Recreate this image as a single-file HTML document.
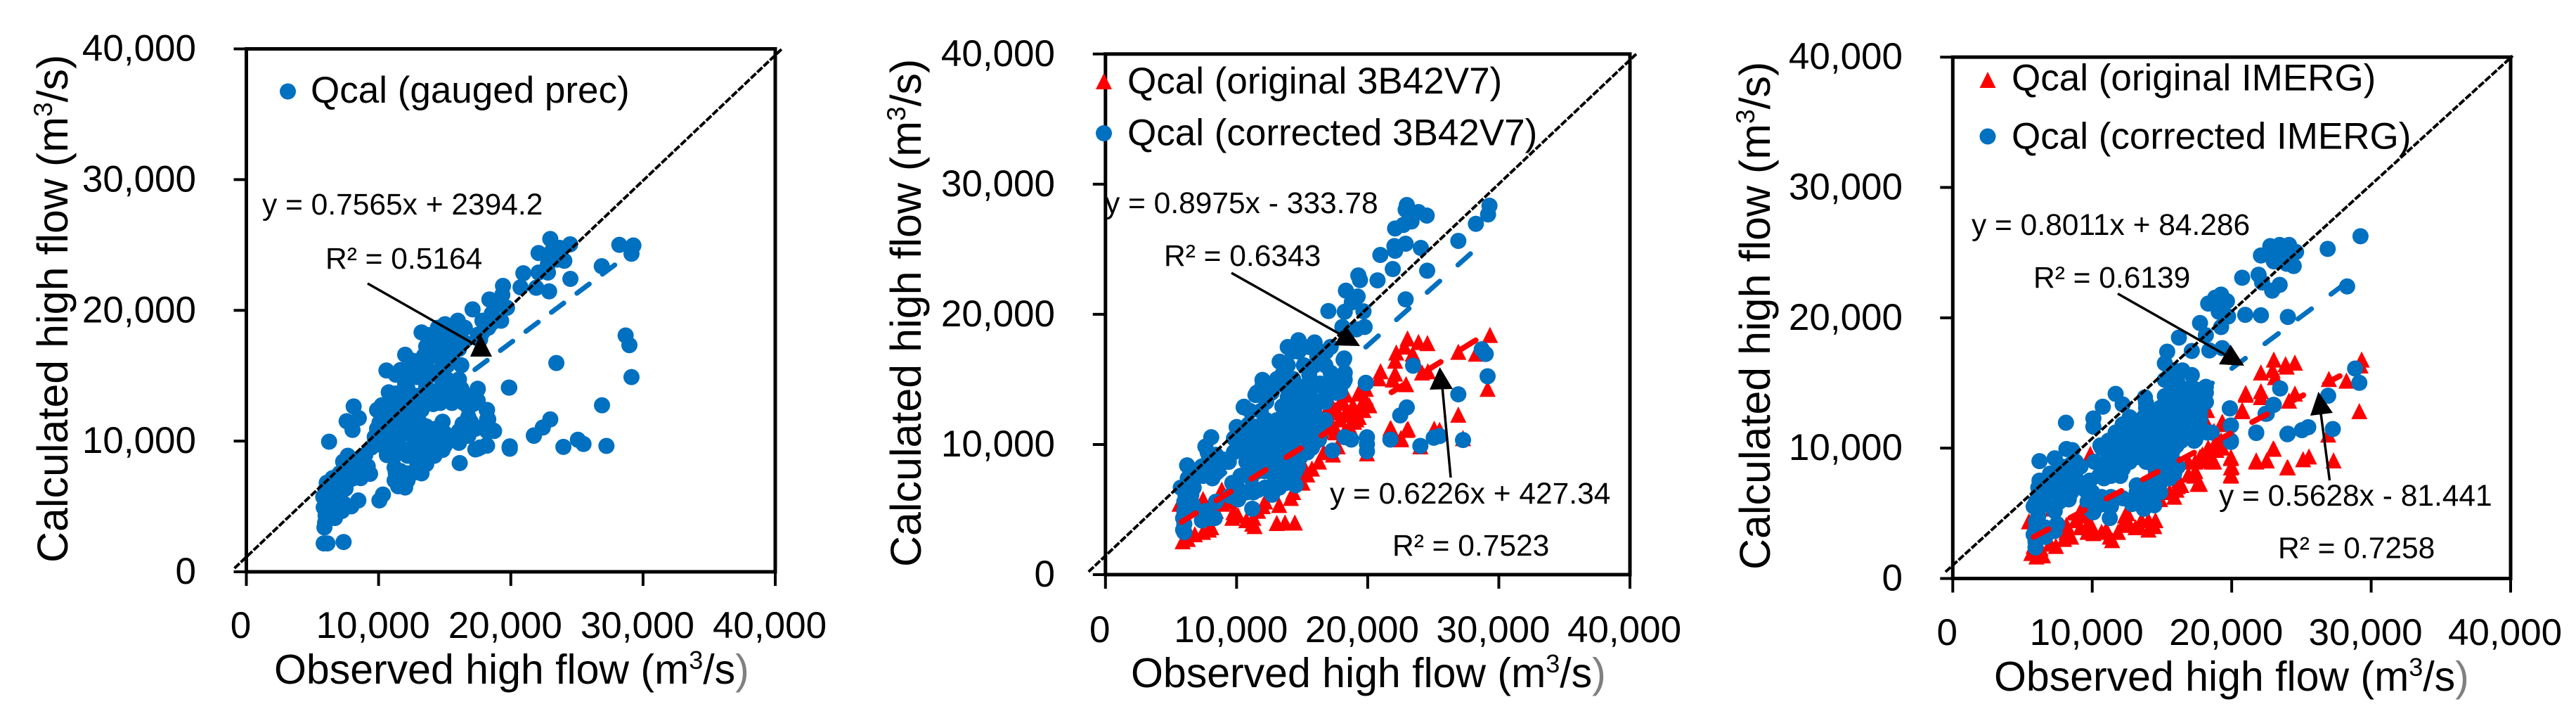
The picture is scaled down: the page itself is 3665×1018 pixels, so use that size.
<!DOCTYPE html>
<html>
<head>
<meta charset="utf-8">
<title>Calculated versus observed high flow</title>
<style>
html,body{margin:0;padding:0;background:#fff;width:3665px;height:1018px;overflow:hidden}
svg{display:block}
text{font-family:"Liberation Sans",sans-serif;fill:#000}
.tick{font-size:53px}
.atitle{font-size:59px}
.ytitle{font-size:61px}
.legend{font-size:53px}
.note{font-size:42.5px}
</style>
</head>
<body>
<svg id="chart" xmlns="http://www.w3.org/2000/svg" width="3665" height="1018" viewBox="0 0 3665 1018">
  <rect x="0" y="0" width="3665" height="1018" fill="#fff"/>
  <g id="panel1"></g>
  <g id="panel2"></g>
  <g id="panel3"></g>

  <g>
    <text class="atitle" x="390" y="972">Observed high flow (m<tspan dy="-21" font-size="36">3</tspan><tspan dy="21">/s</tspan><tspan style="fill:#808080">)</tspan></text>
    <text class="ytitle" transform="translate(96,800) rotate(-90)">Calculated high flow (m<tspan dy="-22" font-size="37">3</tspan><tspan dy="22">/s)</tspan></text>
    <circle cx="409.5" cy="130" r="11.5" fill="#0070c0"/>
    <text class="legend" x="442" y="146">Qcal (gauged prec)</text>
    <text class="note" x="373" y="305">y = 0.7565x + 2394.2</text>
    <text class="note" x="463" y="382">R² = 0.5164</text>
    <line x1="523" y1="403" x2="676" y2="490" stroke="#000" stroke-width="3.5"/>
    <polygon points="683.5,475 700,507 669,507" fill="#000"/>
  </g>

  <g>
    <text class="atitle" x="1609" y="977">Observed high flow (m<tspan dy="-21" font-size="36">3</tspan><tspan dy="21">/s</tspan><tspan style="fill:#808080">)</tspan></text>
    <text class="ytitle" transform="translate(1310,806) rotate(-90)">Calculated high flow (m<tspan dy="-22" font-size="37">3</tspan><tspan dy="22">/s)</tspan></text>
    <polygon points="1570.5,104 1582,127 1559,127" fill="#ff0000"/>
    <text class="legend" x="1604" y="133">Qcal (original 3B42V7)</text>
    <circle cx="1570.5" cy="189.5" r="11.5" fill="#0070c0"/>
    <text class="legend" x="1604" y="206.5">Qcal (corrected 3B42V7)</text>
    <text class="note" x="1572" y="303">y = 0.8975x - 333.78</text>
    <text class="note" x="1656" y="378">R² = 0.6343</text>
    <text class="note" x="1892" y="716">y = 0.6226x + 427.34</text>
    <text class="note" x="1981" y="790">R² = 0.7523</text>
    <line x1="1752" y1="388" x2="1908" y2="476" stroke="#000" stroke-width="3.5"/>
    <polygon points="1915,463 1935,492 1898,491" fill="#000"/>
    <line x1="2064" y1="679" x2="2052" y2="550" stroke="#000" stroke-width="3.5"/>
    <polygon points="2048.5,522 2067,553 2034,554" fill="#000"/>
  </g>

  <g>
    <text class="atitle" x="2837" y="982">Observed high flow (m<tspan dy="-21" font-size="36">3</tspan><tspan dy="21">/s</tspan><tspan style="fill:#808080">)</tspan></text>
    <text class="ytitle" transform="translate(2518,810) rotate(-90)">Calculated high flow (m<tspan dy="-22" font-size="37">3</tspan><tspan dy="22">/s)</tspan></text>
    <polygon points="2828,102 2839.5,125 2816.5,125" fill="#ff0000"/>
    <text class="legend" x="2862" y="128.5">Qcal (original IMERG)</text>
    <circle cx="2828" cy="194" r="11.5" fill="#0070c0"/>
    <text class="legend" x="2862" y="211.5">Qcal (corrected IMERG)</text>
    <text class="note" x="2805" y="334">y = 0.8011x + 84.286</text>
    <text class="note" x="2893" y="409">R² = 0.6139</text>
    <text class="note" x="3157" y="719">y = 0.5628x - 81.441</text>
    <text class="note" x="3241" y="793.5">R² = 0.7258</text>
    <line x1="3013" y1="417.5" x2="3167" y2="505" stroke="#000" stroke-width="3.5"/>
    <polygon points="3173.5,490 3193,520 3157,518" fill="#000"/>
    <line x1="3314.5" y1="683" x2="3302" y2="588" stroke="#000" stroke-width="3.5"/>
    <polygon points="3298.5,557 3319,587 3287,591" fill="#000"/>
  </g>
</svg>

<script>
const tickValues = [0, 10000, 20000, 30000, 40000];
const tickLabels = ["0", "10,000", "20,000", "30,000", "40,000"];
const trendRange = [5800, 29200];

const gaugedSlope = [0.7565];
const gaugedIntercept = [2394.2];
const corrected3bSlope = [0.8975];
const corrected3bIntercept = [-333.78];
const original3bSlope = [0.6226];
const original3bIntercept = [427.34];
const correctedImSlope = [0.8011];
const correctedImIntercept = [84.286];
const originalImSlope = [0.5628];
const originalImIntercept = [-81.441];

const identity1X = [-900, 40500];
const identity1Y = [270, 40000];
const identity2X = [-1290, 40480];
const identity2Y = [220, 40000];
const identity3X = [-520, 40150];
const identity3Y = [510, 40100];

const gaugedObs = [5850,6134,7355,5904,5957,5992,5850,5992,6080,6700,6788,6346,6169,6080,8470,7939,7408,7231,6966,7497,7762,7585,8116,8647,9355,8470,7674,7320,7939,7054,6523,6258,8028,7585,8505,8116,10329,10063,11479,12098,11213,11213,12187,11656,12541,13161,13603,14223,12187,14842,15019,13515,12895,13780,14311,10629,9444,9709,10771,11390,10417,10063,11302,11833,11125,12010,12630,13072,12895,12718,13603,14134,14665,14842,13249,14134,12541,12010,10240,10771,11833,11125,11656,12895,13603,12187,13603,14665,15550,15373,16258,16789,16612,17143,17497,18205,18294,18028,18736,18205,17320,16789,16347,15727,19886,16134,19922,19922,21745,
10594,12010,12806,13249,14488,15019,15993,17108,18382,18028,14311,13603,15196,16081,16523,14311,12541,11656,13603,15196,16258,13426,14665,16081,12010,17497,15727,15019,14311,13603,14311,15373,15727,
22985,22100,24490,23693,22808,23516,24047,23162,22808,20950,22100,22808,20737,21923,22897,24507,19410,18383,19091,19711,19357,19268,17852,18295,17675,18560,17498,19852,23445,26879,28207,29269,29127,28684,28968,29127,26897,22985,22419,21746,23976,25074,25498,27233,19905,18171,17498,18702,18206,18171,17940,
10240,10771,11479,11302,12541,11479,12010,12718,13603,14311,15019,15904,14134,14665,13249,10771,10771,11479,12010,11656,12895,13603,14311,15019,15373,16081,14311,13603,13072,13249,14665,12895,11656,13249,11302,11479,12010,6700,6346,6700,5992,6346,7054,8116,8647,7585,8116,8647,9886,10240,9886,10417,17143,16435,17497,16966,16789,16435,17674,18205,
13780,15019,16435,15196,16081,13426,12541,14665,13957,15196,12895,12187,11302,13603,14665,17851,18559,17497,
12718,16789,17320,16081,13603,14134,10948,11656,13249,9886,12541,11302,9001,9178,12187,6700,5815,6257];
const gaugedCal = [2174,2174,2282,3396,3755,4294,4923,5373,4654,4115,4654,5732,6271,6810,5463,5013,5193,4654,5103,6361,6990,7709,7170,7170,7493,8607,8877,8428,8068,6810,7170,9955,10853,11518,11752,12650,5912,5463,6541,6864,6990,7978,7529,7170,7529,7978,8248,8877,8877,9326,9685,8787,8428,9326,9865,8930,9506,10314,9506,10009,10404,11393,10764,10943,11662,11572,11752,11482,10584,9865,10404,10584,10404,11482,12381,12830,12740,12920,12740,13729,13639,12920,12201,13459,12920,14000,14000,13818,12920,14178,14000,12561,13459,12830,13962,12381,11662,11123,10764,9649,9362,10404,11303,10404,14088,8320,9416,9596,10404,
15400,16604,15885,18311,18670,18940,19209,20072,20827,19209,17592,17233,17412,17951,18670,16514,15436,15436,15795,15795,15795,14896,14896,14717,14357,13998,14178,14357,18311,18131,16873,18490,16873,
25463,24384,25049,24780,24241,23881,23791,24600,23522,22839,22893,22893,21761,21725,21455,22408,21869,20826,20467,20197,21186,19209,19209,18670,17771,19748,13998,14087,15975,23378,25013,24960,24331,18077,17340,14896,12740,11662,11033,10440,9559,10099,9775,9631,9505,9685,9415,10799,11662,12380,11123,
12021,12201,12740,13639,13279,12201,12381,12561,13459,13639,13819,13639,13279,12920,12920,11123,10404,10404,10584,9506,11303,11123,10943,10584,10045,10764,9326,9865,9326,8787,9685,7888,7709,7529,7529,6990,6451,6271,5013,4654,6271,6810,7529,8068,7709,6810,8428,8068,9865,9685,10943,11303,13459,12920,13100,11482,11123,10404,9506,10764,
17951,18131,17592,16694,17053,16514,16154,15436,15076,14717,14896,14896,15076,14178,13998,18311,19029,18131,
10943,11842,10943,9865,8967,9865,10943,11482,10404,12381,11482,8967,8967,8068,6990,5732,5732,4115];

const corrected3bObs = [6012,5923,6012,5923,6012,6012,6101,5744,6280,7352,7977,8334,7620,8423,6637,9495,10120,11192,11281,12710,13245,14496,13781,13067,13960,12888,10745,10209,10299,10745,11638,12531,13424,6226,7620,8066,7798,9406,8423,7352,6994,7887,8780,10031,10566,11549,11995,10388,11459,12531,11459,12531,13603,14853,15746,16282,16103,15924,15031,13692,13781,15031,14674,14317,15389,16817,17800,15031,16103,13781,18246,19854,12531,11638,10745,13424,14138,12174,11102,17317,18246,18746,19943,19943,19943,21729,24015,22479,22979,
22982,22893,23875,24500,23339,22714,22089,22893,22035,22089,24054,20964,21910,24536,19285,19410,20749,18338,19231,18785,17000,18249,19678,19767,19142,18070,22893,26911,28251,29179,29287,28697,29001,29144,26911,23464,19856,17892,25036,25482,27268,16820,18160,18249,18160,17177,16999,17177,
14721,14229,13286,11974,11440,10538,10005,13491,13491,15952,16157,18207,18207,17592,16772,15131,15131,13491,12261,14516,
14138,15031,15924,14317,13245,14317,15389,10566,12174,13067,14317,15746,10745,11995,13245,14138,15389,11102,11995,13067,14138,15031,11102,13067,11638,12710,13781,14674,13245,14138,
14721,15541,16362,14311,16772,12671,15541,16772,17182,13901,13901,11030,12261,10620,9800,12261,14311,15952,
6548,6727,7441,8334,8155,9673,11638,12174,12531,
14674,15567,13781,14853,15924,12710,11995,10924,14496,15567,10209,11281,12531,13781,14853,16103,10209,13067,15924,10745,11638,12531,13603,14496,15389,11995,11281,14138,12888,14496,14317,
13901,15952,15541,13081,12261,11850,13081,15131,16772,13901,15541,11440,9800,13081,14721,16362,7887,8959,6816,6280];
const corrected3bCal = [3260,3440,3891,4341,4882,5602,6143,6684,6774,4161,4341,4341,4882,5602,5422,6053,5783,5062,6323,6143,6684,6864,7044,7405,7765,7044,6323,6503,7585,7765,7945,8666,8125,8396,9837,10558,9387,8666,9207,8306,7585,8486,8486,11279,12901,13982,14613,9567,10108,11729,11369,10288,9927,9026,9747,10378,11549,12630,12630,12901,11549,11189,10108,13892,14072,14072,14072,14432,14613,14432,14973,14703,9207,9026,8666,8846,9026,7945,7405,9531,10558,10378,10558,10017,9477,10378,9891,12234,12847,
28396,28036,27855,27585,27135,26864,26594,25423,25243,24882,25098,24558,23477,23351,22990,22630,22612,21819,21368,20918,20251,20197,20233,19026,18846,19026,21152,25639,26954,27675,28342,17314,16953,15242,13854,16052,14737,14070,10520,10646,10340,17134,16503,15512,14791,15512,14431,17494,
18012,17135,16363,14959,13800,12853,11344,15380,12923,17837,16784,16609,15380,13976,16082,16082,14327,14678,13274,13274,
13351,13351,13351,12630,11910,11910,11910,11189,11189,11189,11189,11189,10468,10468,10468,10468,10468,9747,9747,9747,9747,9747,9026,9026,8306,8306,8306,8306,7585,7585,
17135,15380,14678,15029,17135,13976,13274,13274,15029,17486,13625,12572,11870,10817,9413,10466,12221,11518,
6143,6684,7585,8125,7405,7044,6503,6684,6503,
12991,12991,12270,12270,12270,11549,11549,11549,11549,11549,10828,10828,10828,10828,10828,10828,10108,10108,10108,9387,9387,9387,9387,9387,9387,8666,8666,8666,7945,7945,7224,
16082,16082,17486,15029,14327,12572,11870,11870,11870,10817,10466,9413,10466,9062,9413,10817,8846,8846,7855,7405];

const original3bObs = [5887,6280,7441,7887,11370,11192,13067,13692,14442,10120,9763,8423,12174,13245,14138,11281,9495,7441,15031,15389,16282,15210,17353,17710,19943,21729,23068,22533,24015,17174,17174,17889,17889,19318,19854,18960,19139,18603,17532,18425,17174,19764,18246,17710,5655,8870,
23036,22178,22089,23875,24554,22803,23428,20982,20839,22089,21910,22928,24143,24590,26911,28251,29322,29144,26911,21785,22982,22535,25072,25482,27268,18338,19321,19856,20124,16999,18249,19321,17177,28786,
9673,10745,11638,11995,15746,14674,14317,8066,6816,8959,16639,17535,18785,18963,18070,16999,19678,16463,17535,19678];
const original3bCal = [2539,2719,3260,3440,3711,3891,3945,3981,3981,4521,4792,4882,5602,5332,5873,4341,5602,5783,7044,7675,8666,8125,9207,9837,9297,11225,11189,10468,9837,12630,11549,11910,13171,13892,13351,12811,11910,11369,10919,12450,13171,13171,11009,12450,5422,6504,
18125,17043,16413,17854,17764,17494,16953,15602,15061,15421,14971,14611,15511,15602,17097,16953,18395,14250,12269,11187,11097,10376,11187,11097,10466,13800,13980,14250,12989,12809,12269,12088,11727,17134,
4341,4161,4882,5242,8125,7405,6323,3620,3080,5422,9387,12628,12809,11727,13349,11908,12628,11006,11187,13349];

const correctedImObs = [5932,5932,5966,7310,6638,6302,6134,6218,6218,7310,8150,8570,8116,10082,10082,10754,12182,11678,8486,7982,7310,8318,9158,9494,9662,10082,11258,11342,13694,14450,13526,14870,12182,10586,11678,12854,13862,14870,15878,16718,15878,14534,13190,11846,10502,10838,12014,13190,14534,15710,16130,15542,14870,16382,15878,17390,18230,17726,18146,17390,13778,19876,19944,19944,21758,24026,23018,22430,
22767,23439,24111,24615,23103,22095,23775,24447,23019,23943,20751,21927,22179,23439,22901,26883,29235,28277,18819,19239,18315,19659,19071,19743,19239,20969,22095,24027,17727,18147,16215,17139,18399,19323,15375,15207,16467,17139,16131,15207,16215,18147,18147,15963,17223,17727,18567,17307,19861,19945,19945,21759,23993,25035,25489,27253,23473,22985,22515,26917,28849,29151,
13862,14870,12182,13190,14198,15206,16214,11174,12182,13190,14198,15206,16382,11174,12182,13358,14366,15374,10838,11678,12182,14534,15710,9830,12014,13190,14030,14534,12854,13862,
5798,6638,7310,7982,6974,7814,8486,7478,6134,5798,6806,7478,8486,10334,10838,9998,
15543,15711,16887,17391,15711,16719,17727,15543,15543,16047,15543,
12686,13694,14702,15710,16718,11678,12686,13694,14702,15710,16886,10670,11678,12686,13862,14870,15878,10166,11174,11678,12686,13862,14870,15878,10502,11342,15206,15878,13190,14198,
15879,16719,17391,18147,15207,15207,16215,15207,16047,
5966,6554,6806,6134,7646,8822,8150,6974,8822,9158,8318,7646,5966,6638,10670,9830,11342];
const correctedImCal = [2383,2832,3822,3642,3192,5531,6430,7510,9003,9219,9938,9848,11953,12277,11647,13177,13356,14166,7870,6430,5171,7330,8589,6790,5891,5081,4631,5531,5351,5621,6071,6610,6161,10208,11108,12187,13446,12547,12547,12187,11108,11108,10748,9848,8769,7690,8769,9309,9489,9668,8589,7690,7330,13266,14076,10658,11198,12187,13536,13087,13896,13051,11737,10568,11162,11108,13320,12637,
25500,25589,25589,25050,24960,24780,24690,23970,24330,24150,23071,23305,22711,22531,22082,25284,26255,22405,21542,21776,21092,21272,20462,20102,19293,20228,20192,20067,19599,18663,18484,17458,17494,17674,17404,16504,15965,15605,14975,13986,13986,14256,13536,12727,12547,11647,11198,10568,13051,11737,10478,11198,11071,11377,11611,11468,14579,13320,12637,14022,16109,15011,
13087,13087,11827,11827,11827,11827,11827,10568,10568,10568,10568,10568,10568,9489,9489,9489,9489,9489,8409,8409,8409,8409,8409,7510,7870,7150,6970,7870,5711,5711,
5531,6430,6610,7150,7330,8589,8769,7870,4811,3372,3552,4182,6610,5531,5711,6610,
15605,14525,13806,14525,13266,12907,12727,12007,10928,10208,9489,
12367,12367,12367,12367,12367,11198,11198,11198,11198,11198,11198,10028,10028,10028,10028,10028,10028,8949,8949,8949,8949,8949,8949,8949,7869,7869,8049,8049,6610,6610,
15965,14525,13806,14706,15245,12727,12547,11467,11107,
5891,5711,6970,6970,7330,7690,8229,8049,8949,7330,6071,5891,4361,3912,6250,5351,6250];

const originalImObs = [5998,7394,6302,5798,8486,11426,11258,10082,9662,12182,13106,14450,14030,16046,17558,16886,18230,18734,17390,19944,19944,19944,21758,22514,23018,24026,19322,18314,20750,21002,19322,15878,7142,9864,5462,9158,7982,9158,12518,13526,16970,12770,
23019,23859,24531,23943,22095,22935,23103,21003,20751,22095,22095,24531,24111,26967,28227,29319,29235,29151,27303,26917,22969,21759,22515,23976,25119,25539,19945,19995,19945,19239,18567,17391,19323,18231,17727,17307,16131,
8150,9662,10670,11846,13358,14534,9494,15542,16382,16886,17894,18734,19238,12350,6974,7982,5630,6470,18062,18734,
8150,8822,9998,11006,12686,14030,14870,16214,17390,18398,18902,17726];
const originalImCal = [1663,2473,2293,2473,3192,2922,3192,3462,3552,4092,3912,4002,4452,6790,7240,7960,9039,8949,8949,7960,8499,9219,9039,9039,9938,8499,10028,10028,12817,14076,11827,6250,5351,9525,4362,5171,3732,3912,4991,4452,11378,6160,
16774,16415,16540,16235,15785,15965,15425,14202,12906,14345,13896,14166,13626,15281,15155,16774,16325,12816,9039,11018,9938,8948,9039,8499,9129,9345,9309,8589,7869,10028,8948,8948,12007,12906,7240,7869,7060,
3552,4092,3552,3552,4002,4452,4811,6610,7150,8949,9489,10208,10568,4811,2653,3012,1933,1753,12187,11288,
4092,4452,3912,3732,4092,3732,6070,7510,8229,9489,9848,9309];

const SVGNS = "http://www.w3.org/2000/svg";

function createEl(parent, tag, attrs) {
  const el = document.createElementNS(SVGNS, tag);
  for (const k in attrs) el.setAttribute(k, attrs[k]);
  parent.appendChild(el);
  return el;
}

function drawAxes(g, box, sx, sy) {
  const frame = createEl(g, "rect", {x: box.left, y: box.top, width: box.right - box.left, height: box.bottom - box.top, fill: "none", stroke: "#000", "stroke-width": 5});
  
  
  tickValues.forEach(function (v, i) {
    const yt = createEl(g, "line", {x1: box.left - 18, x2: box.left, y1: sy(v), y2: sy(v), stroke: "#000", "stroke-width": 4});
    
    
    const xt = createEl(g, "line", {x1: sx(v), x2: sx(v), y1: box.bottom, y2: box.bottom + 20, stroke: "#000", "stroke-width": 4});
    
    
    const yl = createEl(g, "text", {class: "tick", x: box.yLabelRight, y: sy(v) + 17, "text-anchor": "end"});
    yl.textContent = tickLabels[i];
    
    
    const xl = createEl(g, "text", {class: "tick", x: sx(v) - 8, y: box.xLabelBase, "text-anchor": "middle"});
    xl.textContent = tickLabels[i];
    
    
  });
}

function drawTriangles(g, xs, ys, sx, sy) {
  xs.forEach(function (x, i) {
    const cx = sx(x), cy = sy(ys[i]);
    const t = createEl(g, "polygon", {points: cx + "," + (cy - 12) + " " + (cx + 11.5) + "," + (cy + 11) + " " + (cx - 11.5) + "," + (cy + 11), fill: "#ff0000"});
    
    
  });
}

function drawCircles(g, xs, ys, sx, sy) {
  xs.forEach(function (x, i) {
    const c = createEl(g, "circle", {cx: sx(x), cy: sy(ys[i]), r: 11.5, fill: "#0070c0"});
    
    
  });
}

function drawTrend(g, slope, intercept, color, width, dash, offset, sx, sy) {
  const a = trendRange[0], b = trendRange[1];
  const l = createEl(g, "line", {x1: sx(a), y1: sy(slope * a + intercept), x2: sx(b), y2: sy(slope * b + intercept), stroke: color, "stroke-width": width, "stroke-dasharray": dash, "stroke-dashoffset": offset, "stroke-linecap": "round"});
  
  
}

function drawIdentity(g, xs, ys, sx, sy) {
  const l = createEl(g, "line", {x1: sx(xs[0]), y1: sy(ys[0]), x2: sx(xs[1]), y2: sy(ys[1]), stroke: "#000", "stroke-width": 4, "stroke-dasharray": "10 2.5"});
  
  
}

function scales(box) {
  return {
    sx: function (v) { return box.left + v / 40000 * (box.right - box.left); },
    sy: function (v) { return box.bottom - v / 40000 * (box.bottom - box.top); }
  };
}

const box1 = {left: 350.5, right: 1103, top: 69.5, bottom: 813, yLabelRight: 279, xLabelBase: 907};
const box2 = {left: 1572.8, right: 2319, top: 76.8, bottom: 817, yLabelRight: 1501, xLabelBase: 913};
const box3 = {left: 2778.3, right: 3572, top: 81.2, bottom: 822.5, yLabelRight: 2707, xLabelBase: 917};

(function () {
  const g = document.getElementById("panel1");
  const s = scales(box1);
  drawCircles(g, gaugedObs, gaugedCal, s.sx, s.sy);
  drawTrend(g, gaugedSlope[0], gaugedIntercept[0], "#0070c0", 7, "22 23.3", 2.1, s.sx, s.sy);
  drawIdentity(g, identity1X, identity1Y, s.sx, s.sy);
  drawAxes(g, box1, s.sx, s.sy);
})();

(function () {
  const g = document.getElementById("panel2");
  const s = scales(box2);
  drawTriangles(g, original3bObs, original3bCal, s.sx, s.sy);
  drawCircles(g, corrected3bObs, corrected3bCal, s.sx, s.sy);
  drawTrend(g, corrected3bSlope[0], corrected3bIntercept[0], "#0070c0", 7, "24 34.5", 0, s.sx, s.sy);
  drawTrend(g, original3bSlope[0], original3bIntercept[0], "#ff0000", 8, "24 34.5", 0, s.sx, s.sy);
  drawIdentity(g, identity2X, identity2Y, s.sx, s.sy);
  drawAxes(g, box2, s.sx, s.sy);
})();

(function () {
  const g = document.getElementById("panel3");
  const s = scales(box3);
  drawTriangles(g, originalImObs, originalImCal, s.sx, s.sy);
  drawCircles(g, correctedImObs, correctedImCal, s.sx, s.sy);
  drawTrend(g, correctedImSlope[0], correctedImIntercept[0], "#0070c0", 7, "24 34.7", 0, s.sx, s.sy);
  drawTrend(g, originalImSlope[0], originalImIntercept[0], "#ff0000", 8, "24 34.5", 0, s.sx, s.sy);
  drawIdentity(g, identity3X, identity3Y, s.sx, s.sy);
  drawAxes(g, box3, s.sx, s.sy);
})();
</script>
</body>
</html>
